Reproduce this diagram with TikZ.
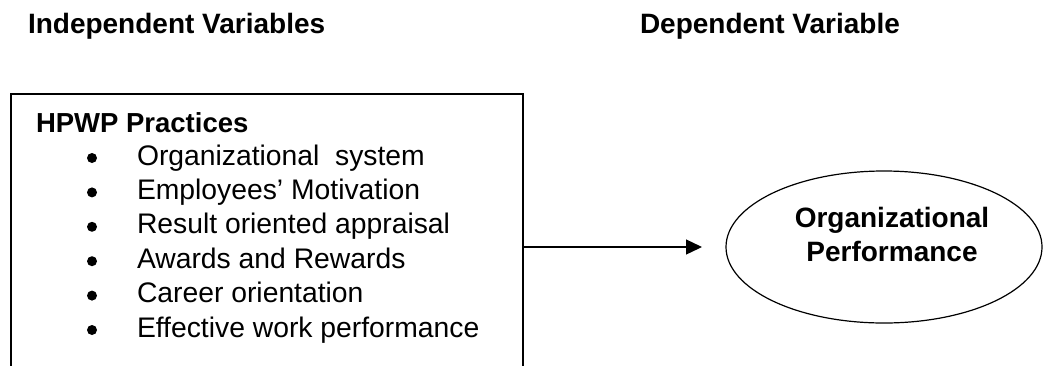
\documentclass[tikz,border=0pt]{standalone}
\usepackage{fontspec}
\setmainfont{Liberation Sans}
\usetikzlibrary{shapes.geometric,arrows.meta}
\tikzset{
  every node/.style={inner sep=0pt, outer sep=0pt},
  txt/.style={font=\fontsize{28.3}{34}\selectfont, anchor=base west},
  btxt/.style={font=\fontsize{28}{34}\selectfont\bfseries, anchor=base west},
  bul/.style={circle, fill=black, minimum size=10pt},
  frame/.style={draw, line width=1.7pt, minimum width=512pt, minimum height=306pt},
  oval/.style={draw, ellipse, line width=1.2pt, minimum width=316pt, minimum height=152pt},
  conn/.style={line width=1.3pt, -{Triangle[length=16pt,width=15pt]}}
}
\begin{document}
\begin{tikzpicture}[x=1pt,y=-1pt]
\useasboundingbox (0,0) rectangle (1048,365);
\clip (0,0) rectangle (1048,365);
\node[btxt] (indep) at (28,33) {Independent Variables};
\node[btxt] (dep) at (640,33) {Dependent Variable};
\node[frame] (hpwp) at (267,247) {};
\node[btxt, font=\fontsize{27.5}{34}\selectfont\bfseries] (title) at (36,132) {HPWP Practices};
\foreach \t [count=\i] in {Organizational\ \ system, Employees’ Motivation, Result oriented appraisal, Awards and Rewards, Career orientation, Effective work performance}{
  \node[bul] (b\i) at (92,{158+34.4*(\i-1)}) {};
  \node[txt] (it\i) at (137,{165+34.4*(\i-1)}) {\t};
}
\node[oval] (perf) at (884,247) {};
\node[btxt, anchor=base] (p1) at (892,227) {Organizational};
\node[btxt, anchor=base] (p2) at (892,261) {Performance};
\draw[conn, shorten >=24pt] (hpwp.east) -- (perf.west);
\end{tikzpicture}
\end{document}
